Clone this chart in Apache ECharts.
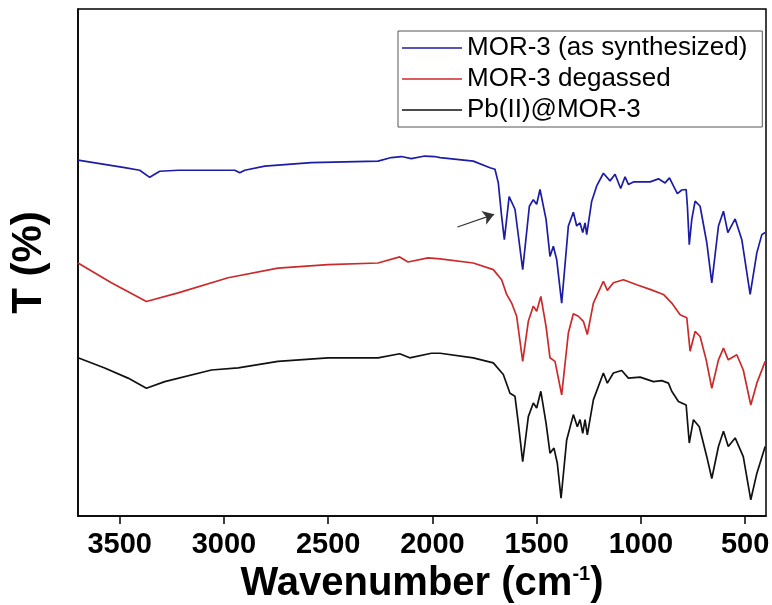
<!DOCTYPE html>
<html>
<head>
<meta charset="utf-8">
<title>FTIR</title>
<script src="https://cdn.jsdelivr.net/npm/echarts@6/dist/echarts.min.js"></script>
<style>
  html, body { margin: 0; padding: 0; background: #fff; }
  #chart { width: 772px; height: 605px; }
</style>
</head>
<body>
<div id="chart"></div>
<script>
// wavenumber (cm-1) / transmittance (arb. units)
const blueWave = [3700, 3476, 3404, 3356, 3308, 3220, 3028, 2948, 2924, 2900, 2804, 2581, 2261, 2197, 2149, 2101, 2037, 1989, 1963, 1804, 1724, 1700, 1684, 1668, 1655, 1632, 1604, 1567, 1535, 1516, 1500, 1484, 1455, 1436, 1420, 1404, 1380, 1348, 1324, 1308, 1292, 1279, 1268, 1260, 1236, 1212, 1180, 1148, 1124, 1097, 1076, 1060, 1036, 956, 916, 884, 863, 844, 825, 804, 783, 777, 768, 756, 740, 716, 684, 660, 628, 604, 583, 548, 516, 476, 444, 420, 404];
const blueT = [70.2, 68.7, 68.2, 66.8, 68.0, 68.2, 68.2, 68.2, 67.7, 68.2, 69.0, 69.7, 70.0, 70.7, 70.9, 70.5, 71.0, 70.9, 70.7, 70.0, 68.7, 68.4, 65.7, 59.1, 54.5, 63.0, 60.5, 48.6, 61.1, 62.4, 61.5, 64.4, 58.5, 51.2, 53.2, 50.6, 42.0, 57.2, 59.9, 57.2, 57.8, 55.9, 57.8, 55.5, 62.1, 65.1, 67.6, 66.1, 67.4, 64.6, 66.9, 65.4, 65.9, 65.9, 66.5, 65.7, 66.7, 65.1, 63.6, 64.3, 64.4, 61.1, 53.5, 58.5, 62.1, 61.1, 53.9, 46.0, 57.2, 60.1, 55.9, 58.6, 54.5, 43.7, 51.9, 55.5, 55.9];

const redWave = [3700, 3540, 3372, 3220, 2980, 2741, 2501, 2261, 2157, 2117, 2021, 1963, 1804, 1708, 1668, 1644, 1620, 1596, 1567, 1540, 1516, 1500, 1480, 1455, 1436, 1412, 1380, 1348, 1324, 1300, 1276, 1257, 1228, 1180, 1161, 1132, 1084, 1020, 956, 892, 852, 812, 780, 764, 740, 716, 687, 660, 628, 604, 581, 540, 509, 473, 444, 404];
const redT = [49.9, 46.0, 42.3, 44.0, 47.0, 48.9, 49.6, 49.9, 51.1, 50.1, 50.9, 50.7, 49.9, 48.6, 46.6, 43.7, 42.0, 39.4, 30.5, 38.4, 41.4, 40.4, 43.3, 37.4, 31.2, 30.5, 23.9, 36.1, 39.9, 39.4, 38.4, 35.8, 42.0, 46.3, 44.5, 46.0, 46.6, 45.6, 44.7, 43.7, 42.0, 39.7, 39.1, 32.5, 36.4, 35.4, 30.8, 25.2, 30.8, 33.1, 30.8, 31.8, 28.8, 21.9, 26.2, 30.5];

const blackWave = [3700, 3572, 3460, 3372, 3284, 3060, 2932, 2741, 2501, 2261, 2157, 2109, 2005, 1963, 1804, 1708, 1660, 1628, 1604, 1588, 1567, 1540, 1516, 1500, 1480, 1455, 1436, 1417, 1401, 1383, 1356, 1324, 1305, 1292, 1279, 1268, 1257, 1228, 1180, 1161, 1132, 1092, 1060, 1004, 940, 900, 868, 852, 820, 783, 768, 748, 720, 684, 660, 628, 604, 581, 548, 509, 473, 444, 404];
const blackT = [31.2, 29.2, 27.2, 25.2, 26.5, 28.8, 29.2, 30.5, 31.2, 31.2, 32.0, 31.2, 32.1, 32.1, 31.2, 30.2, 27.9, 24.2, 23.6, 18.3, 10.7, 19.6, 22.3, 21.3, 24.6, 18.3, 12.4, 13.4, 10.4, 3.5, 15.0, 20.0, 17.6, 19.0, 16.3, 19.0, 16.0, 22.9, 28.2, 26.2, 28.2, 28.7, 27.2, 27.4, 26.5, 26.7, 26.2, 24.6, 22.6, 21.9, 14.4, 19.0, 17.6, 11.7, 7.4, 13.7, 16.7, 13.7, 15.4, 11.7, 3.2, 8.4, 13.7];

const seriesNames = ['MOR-3 (as synthesized)', 'MOR-3 degassed', 'Pb(II)@MOR-3'];
const seriesColors = ['#1c1ca6', '#cc2a2a', '#111111'];
const xTicks = [500, 1000, 1500, 2000, 2500, 3000, 3500];

// arrow pointing at the 1655 band of the as-synthesized sample
const arrowFrom = [1880, 57.0];
const arrowTo = [1704, 59.5];

const FONT = 'Liberation Sans, Arial, sans-serif';

function zip(xs, ys) {
  return xs.map((x, i) => [x, ys[i]]);
}

const chart = echarts.init(document.getElementById('chart'));

const lineSeries = [
  zip(blueWave, blueT),
  zip(redWave, redT),
  zip(blackWave, blackT)
].map((data, i) => {
  let s = {
    name: seriesNames[i],
    type: 'line',
    data: data,
    symbol: 'none',
    color: seriesColors[i],
    lineStyle: { width: 1.7, color: seriesColors[i] },
    emphasis: { disabled: true },
    z: 3 - i
  };
  if (i === 0) {
    s.markLine = {
      silent: true,
      symbol: ['none', 'arrow'],
      symbolSize: 11,
      label: { show: false },
      lineStyle: { color: '#333', type: 'solid', width: 1.2 },
      data: [[{ coord: arrowFrom }, { coord: arrowTo }]]
    };
  }
  return s;
});

chart.setOption({
  animation: false,
  textStyle: { fontFamily: FONT },
  grid: {
    left: 78,
    right: 6,
    top: 9,
    bottom: 89,
    containLabel: false,
    outerBoundsMode: 'none',
    show: true,
    borderColor: '#000',
    borderWidth: 1.5
  },
  legend: {
    left: 398,
    top: 31,
    orient: 'vertical',
    icon: 'rect',
    itemWidth: 60,
    itemHeight: 1.6,
    itemGap: 3,
    padding: [3, 15, 3, 4],
    borderColor: '#555',
    borderWidth: 1,
    backgroundColor: '#fff',
    textStyle: { fontSize: 26, color: '#000', fontFamily: FONT, lineHeight: 28 },
    data: seriesNames
  },
  xAxis: {
    type: 'value',
    min: 400,
    max: 3700,
    inverse: true,
    name: 'Wavenumber (cm{sup|-1})',
    nameLocation: 'middle',
    nameGap: 48,
    nameTextStyle: {
      fontSize: 40,
      fontWeight: 'bold',
      color: '#000',
      fontFamily: FONT,
      rich: {
        sup: { fontSize: 20, fontWeight: 'bold', color: '#000', verticalAlign: 'top', fontFamily: FONT, padding: [0, 0, 16, 0] }
      }
    },
    axisLine: { lineStyle: { color: '#000', width: 1.5 } },
    axisTick: { show: true, length: 8, lineStyle: { color: '#000', width: 1.5 }, customValues: xTicks },
    axisLabel: {
      fontSize: 29,
      fontWeight: 'bold',
      color: '#000',
      margin: 14,
      customValues: xTicks,
      formatter: v => String(v)
    },
    splitLine: { show: false }
  },
  yAxis: {
    type: 'value',
    min: 0,
    max: 100,
    name: 'T (%)',
    nameLocation: 'middle',
    nameRotate: 90,
    nameGap: 28,
    nameTextStyle: { fontSize: 42, fontWeight: 'bold', color: '#000', fontFamily: FONT },
    axisLine: { show: true, lineStyle: { color: '#000', width: 1.5 } },
    axisTick: { show: false },
    axisLabel: { show: false },
    splitLine: { show: false }
  },
  series: lineSeries
});
</script>
</body>
</html>
